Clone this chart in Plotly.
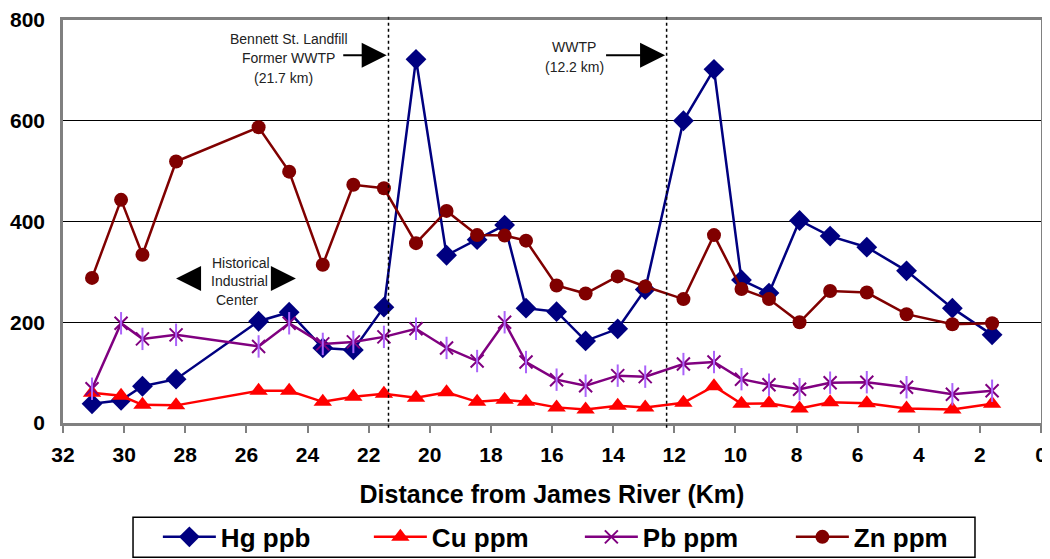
import plotly.graph_objects as go

# sampling stations (km upstream of James River)
distance_km = [31.05, 30.1, 29.4, 28.3, 25.6, 24.6, 23.5, 22.5, 21.5, 20.45,
               19.45, 18.45, 17.55, 16.85, 15.85, 14.9, 13.85, 12.95, 11.7, 10.7,
               9.8, 8.9, 7.9, 6.9, 5.7, 4.4, 2.9, 1.6]

hg_ppb = [38, 45, 73, 87, 202, 220, 149, 145, 230, 722,
          333, 364, 393, 228, 221, 163, 187, 265, 600, 702,
          284, 258, 402, 371, 349, 302, 228, 175]
cu_ppm = [60, 54, 36, 35, 64, 64, 42, 52, 58, 50,
          61, 42, 46, 42, 31, 27, 34, 31, 40, 73,
          38, 39, 29, 41, 39, 29, 27, 38]
pb_ppm = [68, 198, 167, 175, 152, 198, 157, 161, 171, 187,
          149, 123, 200, 121, 86, 74, 94, 92, 117, 121,
          87, 76, 67, 80, 81, 71, 57, 64]
zn_ppm = [288, 443, 334, 519, 587, 499, 314, 473, 466, 357,
          421, 373, 372, 362, 273, 257, 291, 271, 246, 373,
          266, 246, 200, 262, 259, 216, 196, 198]

landfill_km = 21.35
wwtp_km = 12.25

FONT = "Liberation Sans, Arial, sans-serif"

series = [
    ("Hg ppb", hg_ppb, "#000080", dict(symbol="diamond", size=16)),
    ("Cu ppm", cu_ppm, "#FF0000", dict(symbol="triangle-up", size=16)),
    ("Pb ppm", pb_ppm, "#800080", dict(symbol="x-thin-open", size=13, line=dict(width=2, color="#800080"))),
    ("Zn ppm", zn_ppm, "#800000", dict(symbol="circle", size=14)),
]

fig = go.Figure()
for name, vals, color, marker in series:
    fig.add_trace(go.Scatter(
        x=distance_km,
        y=vals,
        mode="lines+markers",
        name=name,
        legendgroup=name,
        line=dict(color=color, width=2.5),
        marker=dict(color=color, **marker),
    ))
    if name == "Pb ppm":
        # vertical stroke completes the six-armed star marker
        fig.add_trace(go.Scatter(
            x=distance_km,
            y=vals,
            mode="markers",
            legendgroup=name,
            showlegend=False,
            hoverinfo="skip",
            marker=dict(symbol="line-ns-open", size=16, line=dict(width=2, color=color)),
        ))

# dotted reference lines
for xv in (landfill_km, wwtp_km):
    fig.add_shape(type="line", xref="x", yref="paper", x0=xv, x1=xv, y0=-0.012, y1=1.013,
                  line=dict(color="black", width=1.5, dash="dot"))

# legend frame
fig.add_shape(type="rect", xref="paper", yref="paper", x0=0.0716, x1=0.9325, y0=-0.333, y1=-0.2338,
              line=dict(color="black", width=1.5), fillcolor="white", layer="below")

note_font = dict(family=FONT, size=14, color="#222222")
notes = [
    ("Bennett St. Landfill", 24.61, 762),
    ("Former WWTP", 24.61, 724),
    ("(21.7 km)", 24.80, 685),
    ("WWTP", 15.28, 746),
    ("(12.2 km)", 15.28, 706),
    ("Historical", 26.18, 318),
    ("Industrial", 26.21, 281),
    ("Center", 26.31, 245),
]
for txt, xv, yv in notes:
    fig.add_annotation(x=xv, y=yv, text=txt, showarrow=False, font=note_font,
                       xanchor="center", yanchor="middle")

arrows = [
    (22.88, 730, landfill_km + 0.06, 730),
    (14.28, 730, wwtp_km + 0.05, 730),
    (27.55, 287, 28.30, 287),
    (25.20, 287, 24.38, 287),
]
for tx, ty, hx, hy in arrows:
    fig.add_annotation(x=hx, y=hy, ax=tx, ay=ty, xref="x", yref="y", axref="x", ayref="y",
                       text="", showarrow=True, arrowhead=2, arrowsize=2.5, arrowwidth=2,
                       arrowcolor="black")

# page body adds an 8px offset, so the figure is sized to fill the rest
fig.update_layout(
    width=1042,
    height=551,
    margin=dict(l=55, r=9, t=12, b=136),
    paper_bgcolor="white",
    plot_bgcolor="white",
    font=dict(family=FONT, color="black"),
    showlegend=True,
    xaxis=dict(
        range=[32, 0],
        dtick=2,
        tick0=0,
        automargin=False,
        showgrid=False,
        zeroline=False,
        showline=True,
        mirror=True,
        linecolor="#808080",
        linewidth=2.5,
        ticks="outside",
        ticklen=7,
        tickwidth=2,
        tickcolor="#808080",
        ticklabelstandoff=4,
        tickfont=dict(family=FONT, size=21, weight="bold"),
        title=dict(text="Distance from James River (Km)",
                   font=dict(family=FONT, size=25, weight="bold"), standoff=21),
    ),
    yaxis=dict(
        range=[0, 800],
        dtick=200,
        automargin=False,
        showgrid=True,
        gridcolor="black",
        gridwidth=1,
        zeroline=False,
        showline=True,
        mirror=True,
        linecolor="#808080",
        linewidth=2.5,
        ticks="",
        ticklabelstandoff=11,
        tickfont=dict(family=FONT, size=21, weight="bold"),
    ),
    legend=dict(
        orientation="h",
        xref="paper",
        x=0.097,
        xanchor="left",
        yref="container",
        y=0.04,
        yanchor="middle",
        bgcolor="rgba(0,0,0,0)",
        borderwidth=0,
        font=dict(family=FONT, size=26, weight="bold"),
        itemwidth=53,
        entrywidth=143,
    ),
)

fig.write_html("out.html")
